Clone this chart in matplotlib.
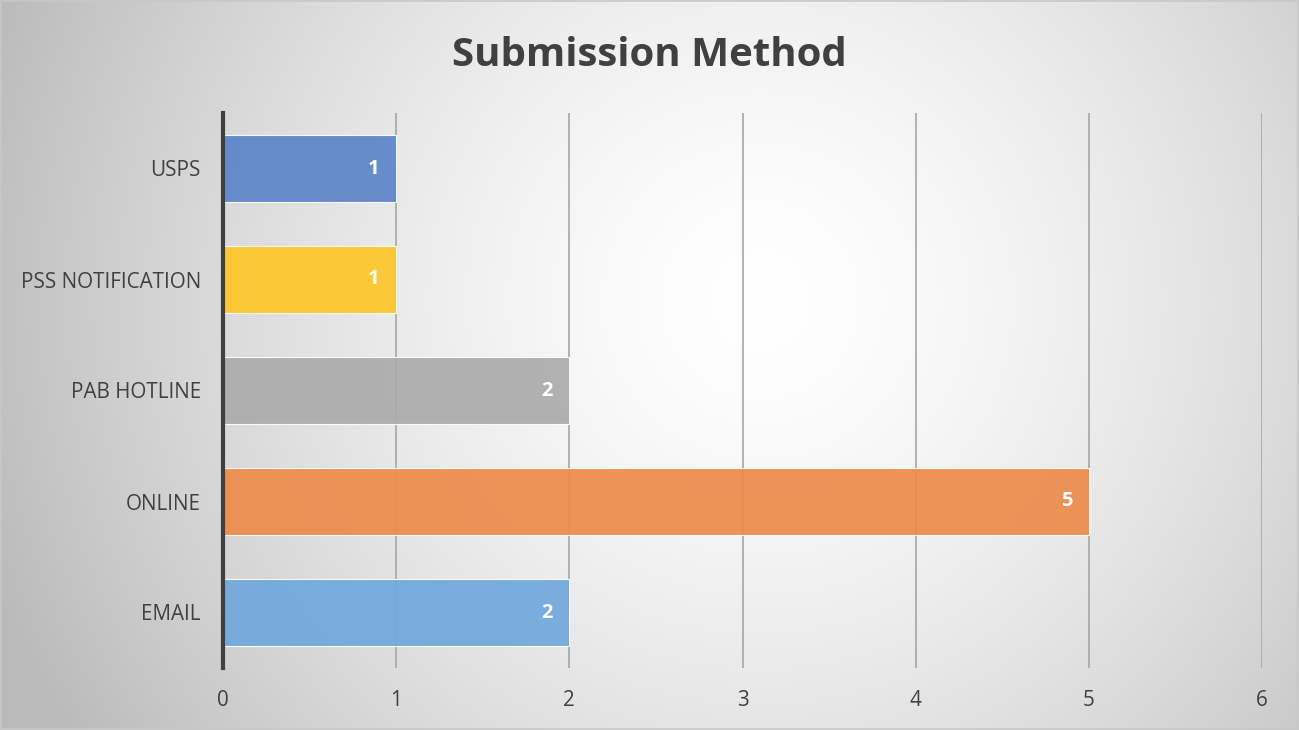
import matplotlib.pyplot as plt
import numpy as np

# Data
categories = ["EMAIL", "ONLINE", "PAB HOTLINE", "PSS NOTIFICATION", "USPS"]
counts = [2, 5, 2, 1, 1]
colors = ["#6fa8dc", "#ed8b4b", "#ababab", "#ffc628", "#5b84c9"]
xticks = [0, 1, 2, 3, 4, 5, 6]

plt.rcParams['font.family'] = ['Open Sans', 'DejaVu Sans']

fig = plt.figure(figsize=(12.99, 7.30), dpi=100)

# Radial gradient background
bg = fig.add_axes([0, 0, 1, 1], zorder=-10)
h, w = 730, 1299
yy, xx = np.mgrid[0:h, 0:w]
cx, cy = 760, 300
r = np.sqrt((xx - cx) ** 2 + (yy - cy) ** 2)
r = np.clip(r / 820.0, 0, 1)
val = 1.0 - 0.27 * r ** 1.5
img = np.dstack([val, val, val])
bg.imshow(img, aspect='auto', extent=[0, 1, 0, 1], origin='upper')
bg.set_xlim(0, 1)
bg.set_ylim(0, 1)
bg.axis('off')
bg.add_patch(plt.Rectangle((0.0008, 0.0014), 0.9984, 0.9972, fill=False,
                           edgecolor='#c8c8c8', linewidth=1.2))

ax = fig.add_axes([223 / 1299, 1 - 668 / 730, (1262 - 223) / 1299, (668 - 113) / 730])
ax.patch.set_alpha(0)

y = np.arange(len(categories))
ax.barh(y, counts, height=0.6, color=colors, alpha=0.92,
        edgecolor='white', linewidth=0.8, zorder=2)
for yi, c in zip(y, counts):
    ax.text(c - 0.13, yi, str(c), ha='center', va='center', color='white',
            fontsize=14.5, fontweight='bold', zorder=3)

ax.set_xlim(0, 6)
ax.set_ylim(-0.5, len(categories) - 0.5)
ax.set_xticks(xticks)
ax.set_yticks(y)
ax.set_yticklabels(categories)
ax.tick_params(axis='both', length=0, labelsize=14.9, colors='#404040')
ax.tick_params(axis='x', pad=16)
ax.tick_params(axis='y', pad=16)
ax.grid(axis='x', color='#a6a6a6', linewidth=1.2, zorder=1)
ax.set_axisbelow(True)
for s in ['top', 'right', 'bottom']:
    ax.spines[s].set_visible(False)
ax.spines['left'].set_color('#404040')
ax.spines['left'].set_linewidth(3)
ax.spines['left'].set_zorder(4)

fig.text(649 / 1299, 1 - 55 / 730, "Submission Method", ha='center', va='center',
         fontsize=29, fontweight='bold', color='#404040')

plt.savefig("out.png", dpi=100)
